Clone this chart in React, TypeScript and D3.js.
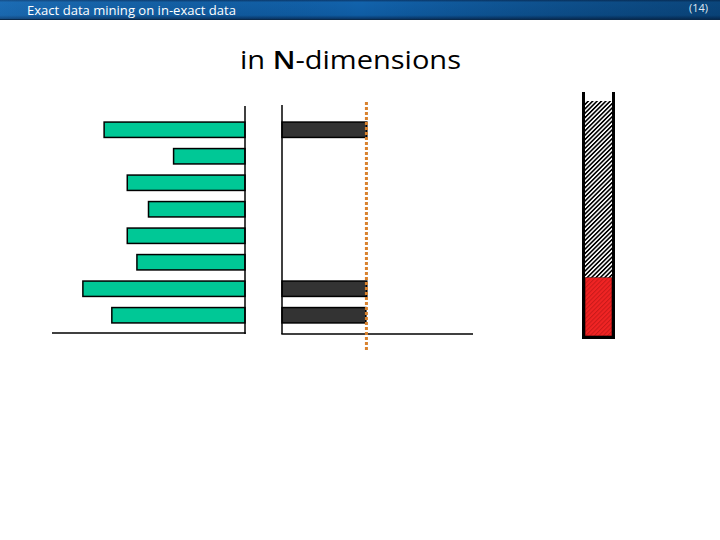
import React from "react";
import * as d3 from "d3";

const rows = ["r1", "r2", "r3", "r4", "r5", "r6", "r7", "r8"];
const leftValues = [7.3, 3.7, 6.1, 5.0, 6.1, 5.6, 8.4, 6.9];
const midRows = ["r1", "r7", "r8"];
const midValues = [4.44, 4.44, 4.39];
const threshold = 4.42;
const stackLabels = ["match", "rest"];
const stackValues = [2, 6];
const headerText = "Exact data mining on in-exact data";
const pageLabel = "(14)";
const titleParts = ["in ", "N", "-dimensions"];

export default function App() {
  const W = 720, H = 540;
  const y = d3.scaleBand<string>().domain(rows).range([112, 333]).paddingInner(0.42).paddingOuter(0.38);
  const xLeft = d3.scaleLinear().domain([0, 10]).range([245, 52]);
  const xMid = d3.scaleLinear().domain([0, 10]).range([282, 473]);
  const yStack = d3.scaleLinear().domain([0, 8]).range([336, 101]);
  const stacked = d3.stack<any>().keys(stackLabels)([
    Object.fromEntries(stackLabels.map((k, i) => [k, stackValues[i]])),
  ]);
  const tubeX0 = 585, tubeX1 = 612;

  return (
    <svg width={W} height={H} style={{ position: "absolute", left: 0, top: 0 }}>
      <defs>
        <linearGradient id="hdrV" x1="0" y1="0" x2="0" y2="1">
          <stop offset="0" stopColor="#0b3a6e" />
          <stop offset="0.12" stopColor="#1263ac" />
          <stop offset="0.8" stopColor="#0f5ca3" />
          <stop offset="1" stopColor="#093566" />
        </linearGradient>
        <linearGradient id="hdrH" x1="0" y1="0" x2="1" y2="0">
          <stop offset="0" stopColor="#3a8ad0" stopOpacity="0.25" />
          <stop offset="0.5" stopColor="#000" stopOpacity="0" />
          <stop offset="1" stopColor="#001a33" stopOpacity="0.4" />
        </linearGradient>
        <pattern id="hatch" patternUnits="userSpaceOnUse" width="3.1" height="4" patternTransform="rotate(45)">
          <rect width="3.1" height="4" fill="#fff" />
          <rect x="0" y="0" width="1.6" height="4" fill="#000" />
        </pattern>
        <pattern id="redHatch" patternUnits="userSpaceOnUse" width="3.1" height="4" patternTransform="rotate(45)">
          <rect width="3.1" height="4" fill="#f02424" />
          <rect x="0" y="0" width="1" height="4" fill="#c81a1a" />
        </pattern>
      </defs>
      <rect x={0} y={0} width={W} height={H} fill="#fff" />
      {/* header */}
      <rect x={0} y={0} width={W} height={19} fill="url(#hdrV)" />
      <rect x={0} y={0} width={W} height={19} fill="url(#hdrH)" />
      <line x1={0} x2={W} y1={19.5} y2={19.5} stroke="#0a2a4c" strokeWidth={1} />
      <text x={27} y={15} fill="#ffffff" fontFamily="Open Sans, sans-serif" fontSize={12} textLength={209} lengthAdjust="spacingAndGlyphs">
        {headerText}
      </text>
      <text x={708} y={12} fill="#dfe8f2" fontFamily="Open Sans, sans-serif" fontSize={11} textAnchor="end">
        {pageLabel}
      </text>
      {/* title */}
      <text x={240} y={69} fill="#000" fontFamily="Open Sans, sans-serif" fontSize={25} textLength={221} lengthAdjust="spacingAndGlyphs">
        <tspan>{titleParts[0]}</tspan>
        <tspan fontWeight="600">{titleParts[1]}</tspan>
        <tspan>{titleParts[2]}</tspan>
      </text>

      {/* left chart */}
      {rows.map((r, i) => (
        <rect key={r} x={xLeft(leftValues[i])} y={y(r)} width={xLeft(0) - xLeft(leftValues[i])} height={y.bandwidth()}
          fill="#00c896" stroke="#000" strokeWidth={1.5} />
      ))}
      <line x1={245} x2={245} y1={106} y2={334} stroke="#000" strokeWidth={1.5} />
      <line x1={52} x2={245.7} y1={333} y2={333} stroke="#000" strokeWidth={1.5} />

      {/* middle chart */}
      {midRows.map((r, i) => (
        <rect key={r} x={xMid(0)} y={y(r)} width={xMid(midValues[i]) - xMid(0)} height={y.bandwidth()}
          fill="#333333" stroke="#000" strokeWidth={1.5} />
      ))}
      <line x1={282} x2={282} y1={105} y2={334} stroke="#000" strokeWidth={1.5} />
      <line x1={281.3} x2={473} y1={334} y2={334} stroke="#000" strokeWidth={1.5} />
      <line x1={xMid(threshold)} x2={xMid(threshold)} y1={102} y2={352} stroke="#d9822e" strokeWidth={3} strokeDasharray="3 2" />

      {/* right stacked tube */}
      {stacked.map((s, i) => (
        <rect key={s.key} x={tubeX0} y={yStack(s[0][1])} width={tubeX1 - tubeX0} height={yStack(s[0][0]) - yStack(s[0][1])}
          fill={i === 0 ? "url(#redHatch)" : "url(#hatch)"} stroke={i === 0 ? "#5a0a0a" : "none"} strokeWidth={1} />
      ))}
      <rect x={582} y={92} width={3} height={247} fill="#000" />
      <rect x={612} y={92} width={3} height={247} fill="#000" />
      <rect x={582} y={336} width={33} height={3} fill="#000" />
    </svg>
  );
}
